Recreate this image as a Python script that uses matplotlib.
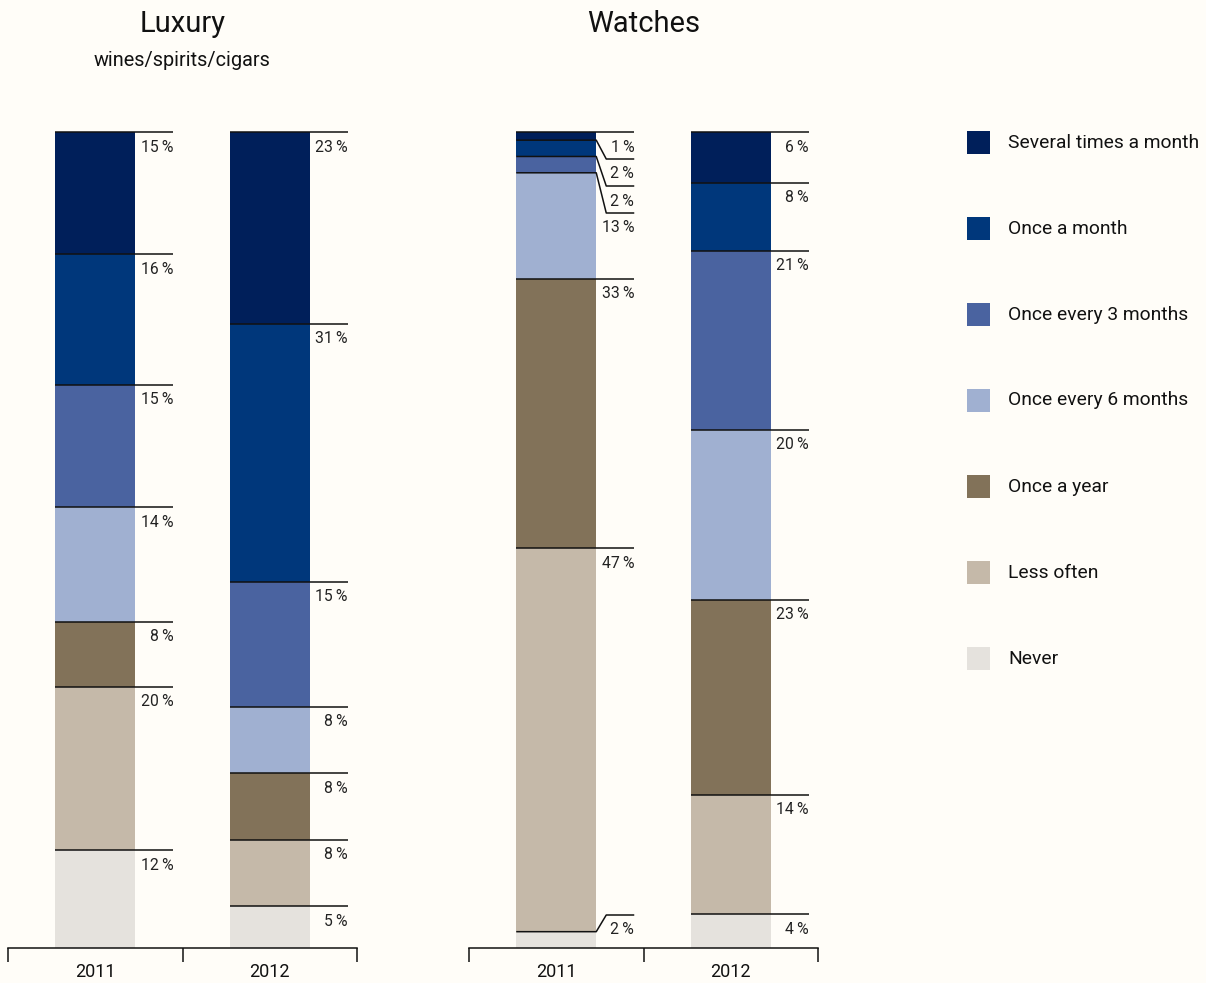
import matplotlib
matplotlib.use('Agg')
import matplotlib.pyplot as plt
from matplotlib.patches import Rectangle

plt.rcParams['font.family'] = ['Roboto', 'DejaVu Sans']

# ---------------- data ----------------
categories = ['Several times a month', 'Once a month', 'Once every 3 months',
              'Once every 6 months', 'Once a year', 'Less often', 'Never']
colors = ['#001F5A', '#00377B', '#4A63A0', '#A0B0D1', '#827259', '#C5B9A9', '#E5E2DD']
years = ['2011', '2012']
luxury_2011 = [15, 16, 15, 14, 8, 20, 12]
luxury_2012 = [23, 31, 15, 8, 8, 8, 5]
watches_2011 = [1, 2, 2, 13, 33, 47, 2]
watches_2012 = [6, 8, 21, 20, 23, 14, 4]

panels = [
    ('Luxury', 'wines/spirits/cigars', [luxury_2011, luxury_2012], 8),
    ('Watches', None, [watches_2011, watches_2012], 469),
]

BG = '#FFFDF8'
W, H = 1206, 983
fig = plt.figure(figsize=(W / 100, H / 100), dpi=100, facecolor=BG)

AX_W = 349
AX_TOP, AX_BOT = 132, 948
AX_H = AX_BOT - AX_TOP
PX_PER_Y = AX_H / 100.0
PX_PER_X = AX_W / 2.0
BAR_W = 80 / PX_PER_X
EXT = 38 / PX_PER_X
DIAG = 10 / PX_PER_X
GAP = 27 / PX_PER_Y
BOT_LIM = 33 / PX_PER_Y
LINE_C = '#111111'


def fig_rect(x, y, w, h):
    return [x / W, 1 - (y + h) / H, w / W, h / H]


for title, subtitle, series, left in panels:
    ax = fig.add_axes(fig_rect(left, AX_TOP, AX_W, AX_H))
    ax.set_facecolor('none')
    ax.set_xlim(0, 2)
    ax.set_ylim(0, 100)
    for s in ['top', 'left', 'right']:
        ax.spines[s].set_visible(False)
    ax.spines['bottom'].set_color(LINE_C)
    ax.spines['bottom'].set_linewidth(1.1)
    ax.set_yticks([])
    ax.set_xticks([0, 1, 2])
    ax.set_xticklabels([])
    ax.tick_params(axis='x', which='major', length=10, width=1.1, color=LINE_C, direction='out')
    ax.set_xticks([0.5, 1.5], minor=True)
    ax.set_xticklabels(years, minor=True, fontsize=13, color='#111111')
    ax.tick_params(axis='x', which='minor', length=0, pad=10.5)

    for xi, vals in enumerate(series):
        xc = xi + 0.5
        total = float(sum(vals))
        hs = [v / total * 100 for v in vals]
        tops = []
        cur = 100.0
        for h in hs:
            tops.append(cur)
            cur -= h
        for h, t, c in zip(hs, tops, colors):
            ax.bar(xc, h, bottom=t - h, width=BAR_W, color=c, linewidth=0, zorder=1)
        # label line positions (downward distance from top, in y units)
        d = [100 - t for t in tops]
        pos = list(d)
        for i in range(1, len(pos)):
            if pos[i] - pos[i - 1] < GAP:
                pos[i] = pos[i - 1] + GAP
        if pos[-1] > 100 - BOT_LIM:
            pos[-1] = 100 - BOT_LIM
        for i in range(len(pos) - 2, -1, -1):
            if pos[i + 1] - pos[i] < GAP:
                pos[i] = pos[i + 1] - GAP
        xl = xc - BAR_W / 2
        xr = xc + BAR_W / 2
        for v, t, p in zip(vals, tops, pos):
            yl = 100 - p
            if abs(yl - t) < 1e-6:
                xs = [xl, xr + EXT]
                ys = [t, t]
            else:
                xs = [xl, xr, xr + DIAG, xr + EXT]
                ys = [t, t, yl, yl]
            ax.plot(xs, ys, color=LINE_C, lw=1.1, solid_capstyle='butt',
                    clip_on=False, zorder=3)
            ax.annotate(f'{v}\u2009%', xy=(xr + EXT, yl), xytext=(0, -15),
                        textcoords='offset pixels', ha='right', va='center',
                        fontsize=11.3, color='#222222')

    cx = (left + AX_W / 2) / W
    fig.text(cx, 1 - 24 / H, title, ha='center', va='center', fontsize=21, color='#111111')
    if subtitle:
        fig.text(cx, 1 - 60 / H, subtitle, ha='center', va='center', fontsize=14.3, color='#111111')

# legend
for i, (lab, c) in enumerate(zip(categories, colors)):
    y0 = 131 + 86 * i
    fig.patches.append(Rectangle((967 / W, 1 - (y0 + 23) / H), 23 / W, 23 / H,
                                 transform=fig.transFigure, facecolor=c, edgecolor='none'))
    fig.text(1008 / W, 1 - (y0 + 11.5) / H, lab, ha='left', va='center',
             fontsize=13.9, color='#111111')

fig.savefig('out.png', dpi=100, facecolor=BG)
